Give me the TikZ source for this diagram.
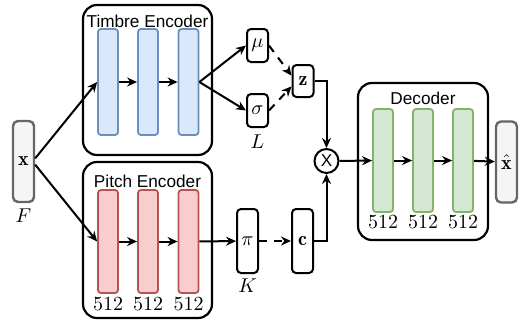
\documentclass[tikz,border=0pt]{standalone}
\usepackage{fontspec}
\setsansfont{Liberation Sans}
\usetikzlibrary{arrows.meta}
\definecolor{bluefill}{HTML}{DAE8FC}
\definecolor{blueline}{HTML}{6C8EBF}
\definecolor{redfill}{HTML}{F8CECC}
\definecolor{redline}{HTML}{B85450}
\definecolor{greenfill}{HTML}{D5E8D4}
\definecolor{greenline}{HTML}{82B366}
\definecolor{grayfill}{HTML}{F5F5F5}
\definecolor{grayline}{HTML}{666666}
\begin{document}
\begin{tikzpicture}[x=0.5pt,y=-0.5pt,
  enc/.style={draw,line width=1.1pt,rounded corners=7pt,inner sep=0pt},
  bar/.style={line width=0.9pt,rounded corners=1.5pt,minimum width=10pt,inner sep=0pt},
  var/.style={draw,fill=white,line width=1pt,rounded corners=2pt,minimum width=10.5pt,inner sep=0pt},
  io/.style={draw=grayline,fill=grayfill,line width=1.2pt,rounded corners=2.5pt,minimum width=10.5pt,minimum height=40.5pt,inner sep=0pt},
  arr/.style={line width=1pt,-{Stealth[length=5pt,width=4.5pt]}},
  darr/.style={arr,dash pattern=on 4pt off 3.5pt},
  title/.style={font=\sffamily\fontsize{8.6}{10}\selectfont,anchor=base}]
\useasboundingbox (0,0) rectangle (520,322);
% input and output
\node[io] (xin) at (23.5,161.5) {$\mathbf{x}$};
\node[anchor=base] (fl) at (23.5,222) {$F$};
\node[io] (xout) at (506.5,162) {$\hat{\mathbf{x}}$};
% encoders and decoder
\node[enc,minimum width=64.5pt,minimum height=75pt] (te) at (147.5,80) {};
\node[title] (tet) at (147.5,27) {Timbre Encoder};
\node[enc,minimum width=64.5pt,minimum height=78pt] (pe) at (147.5,240) {};
\node[title] (pet) at (147.5,187) {Pitch Encoder};
\node[enc,minimum width=65pt,minimum height=78.5pt] (dec) at (423,161.5) {};
\node[title] (dect) at (423,104) {Decoder};
\foreach \i/\xx in {1/108,2/148,3/188.5}{
  \node[bar,draw=blueline,fill=bluefill,minimum height=53pt] (tb\i) at (\xx,82) {};
  \node[bar,draw=redline,fill=redfill,minimum height=51.5pt] (pb\i) at (\xx,241.5) {};
  \node[anchor=base] (pn\i) at (\xx,310) {$512$};
}
\foreach \i/\xx in {1/383,2/423,3/463}{
  \node[bar,draw=greenline,fill=greenfill,minimum height=51.5pt] (db\i) at (\xx,160.5) {};
  \node[anchor=base] (dn\i) at (\xx,228.5) {$512$};
}
% latent variables
\node[var,minimum height=16.5pt] (mu) at (257.5,45.5) {$\mu$};
\node[var,minimum height=16.5pt] (sig) at (257.5,110.5) {$\sigma$};
\node[anchor=base] (ll) at (257.5,148) {$L$};
\node[var,minimum height=16pt] (z) at (303,81) {$\mathbf{z}$};
\node[var,minimum height=32pt] (pi) at (247.5,241) {$\pi$};
\node[anchor=base] (kl) at (247.5,292) {$K$};
\node[var,minimum height=32pt] (c) at (302.5,241) {$\mathbf{c}$};
\node[draw,circle,line width=1pt,minimum size=12pt,inner sep=0pt,font=\sffamily\fontsize{8.6}{10}\selectfont] (mult) at (326.5,161) {X};
% connections
\draw[arr] (xin.15) -- (tb1.west);
\draw[arr] (xin.-15) -- (pb1.west);
\draw[arr] (tb1) -- (tb2);
\draw[arr] (tb2) -- (tb3);
\draw[arr] (pb1) -- (pb2);
\draw[arr] (pb2) -- (pb3);
\draw[arr] (tb3.east) -- (mu.west);
\draw[arr] (tb3.east) -- (sig.west);
\draw[darr] (mu.east) -- (z.155);
\draw[darr] (sig.east) -- (z.205);
\draw[arr] (pb3) -- (pi);
\draw[darr] (pi) -- (c);
\draw[arr] (z.east) -| (mult.north);
\draw[arr] (c.east) -| (mult.south);
\draw[arr] (mult) -- (db1);
\draw[arr] (db1) -- (db2);
\draw[arr] (db2) -- (db3);
\draw[arr] (db3) -- (xout);
\end{tikzpicture}
\end{document}
